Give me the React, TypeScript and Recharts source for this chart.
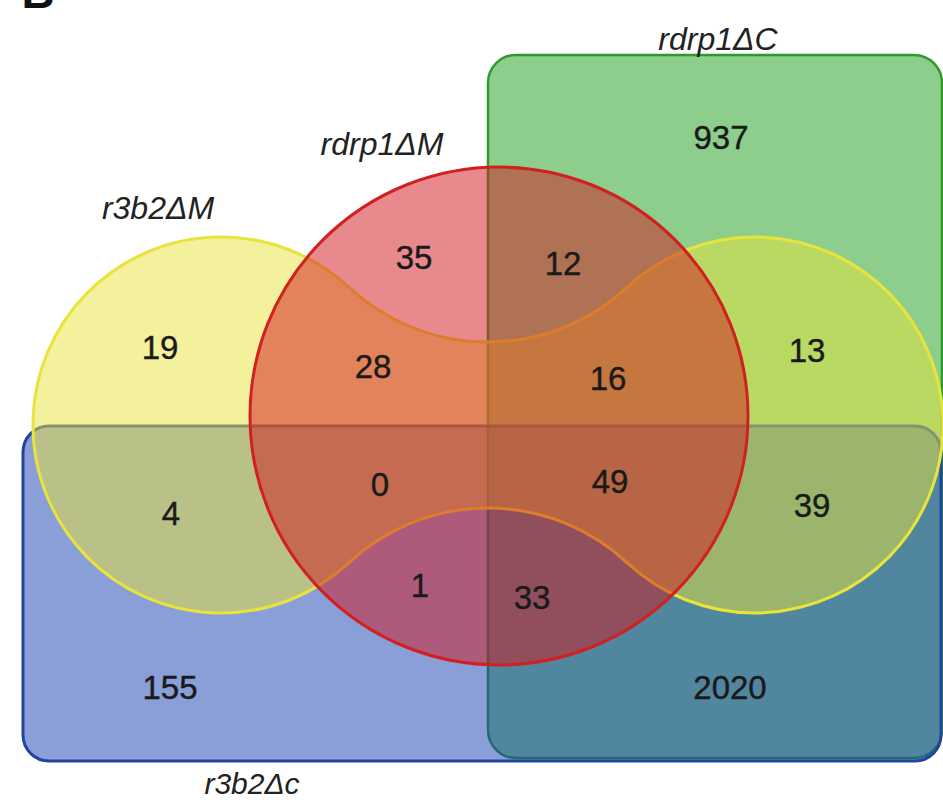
import React from 'react';
import { ScatterChart, Scatter, XAxis, YAxis, ReferenceArea } from 'recharts';

// ---------- data ----------
const panelLabel = 'B';
const setNames = ['r3b2ΔM', 'rdrp1ΔM', 'rdrp1ΔC', 'r3b2Δc'];
// region counts
const regionCounts = [937, 35, 12, 19, 28, 16, 13, 0, 49, 4, 39, 1, 33, 155, 2020];

// ---------- layout (canvas units, mapped through the axes) ----------
const W = 943;
const H = 802;
const countPos: number[][] = [
  [721, 137], [414, 257], [563, 263], [160, 347], [373, 366], [608, 378], [807, 350],
  [380, 484], [610, 481], [171, 513], [812, 505], [420, 585], [532, 597], [170, 687], [730, 687],
];
const namePos: number[][] = [[158, 207], [382, 143], [718, 38], [252, 783]];
const panelPos = [38, 0];

// set shapes: bounding boxes in canvas units
const greenBox = { x1: 488, x2: 942, y1: 55, y2: 758 };
const blueBox = { x1: 23, x2: 941, y1: 426, y2: 761 };
const yellowBox = { x1: 33, x2: 943, y1: 237, y2: 613 };
const redBox = { x1: 250, x2: 748, y1: 167, y2: 665 };
const yellowWaist = 83 / 188; // waist half-height relative to lobe radius

const FONT = '"Liberation Sans", Arial, Helvetica, sans-serif';

const roundRect = (fill: string, stroke: string, sw: number, rx: number) => (p: any) => (
  <rect x={p.x} y={p.y} width={p.width} height={p.height} rx={rx} ry={rx}
    fill={fill} fillOpacity={0.5} stroke={stroke} strokeWidth={sw} />
);

const ellipseShape = (fill: string, stroke: string, sw: number) => (p: any) => (
  <ellipse cx={p.x + p.width / 2} cy={p.y + p.height / 2} rx={p.width / 2} ry={p.height / 2}
    fill={fill} fillOpacity={0.5} stroke={stroke} strokeWidth={sw} />
);

const peanutShape = (fill: string, stroke: string, sw: number) => (p: any) => {
  const r = p.height / 2;
  const cy = p.y + r;
  const c1 = p.x + r;
  const c2 = p.x + p.width - r;
  const mx = (c1 + c2) / 2;
  const d = mx - c1;
  const h = yellowWaist * r;
  const R2 = (d * d + h * h - r * r) / (2 * (r - h));
  const tx = (r * d) / (r + R2);
  const ty = (r * (h + R2)) / (r + R2);
  const T1 = [c1 + tx, cy - ty];
  const B1 = [c1 + tx, cy + ty];
  const B2 = [c2 - tx, cy + ty];
  const T2 = [c2 - tx, cy - ty];
  const path = [
    `M ${T1[0]} ${T1[1]}`,
    `A ${r} ${r} 0 1 0 ${B1[0]} ${B1[1]}`,
    `A ${R2} ${R2} 0 0 1 ${B2[0]} ${B2[1]}`,
    `A ${r} ${r} 0 1 0 ${T2[0]} ${T2[1]}`,
    `A ${R2} ${R2} 0 0 1 ${T1[0]} ${T1[1]}`,
    'Z',
  ].join(' ');
  return <path d={path} fill={fill} fillOpacity={0.5} stroke={stroke} strokeWidth={sw} />;
};

const countData = regionCounts.map((v, i) => ({ x: countPos[i][0], y: countPos[i][1], label: String(v) }));
const nameData = setNames.map((n, i) => ({ x: namePos[i][0], y: namePos[i][1], label: n, size: i === 3 ? 30 : 32 }));
const panelData = [{ x: panelPos[0], y: panelPos[1], label: panelLabel }];

const CountText = (p: any) => (
  <text x={p.cx} y={p.cy} dy="0.36em" textAnchor="middle" fontFamily={FONT} fontSize={33}
    fill="#1a1a1a" stroke="#1a1a1a" strokeWidth={0.4}>
    {p.payload.label}
  </text>
);
const NameText = (p: any) => (
  <text x={p.cx} y={p.cy} dy="0.36em" textAnchor="middle" fontFamily={FONT} fontSize={p.payload.size} fontStyle="italic" fill="#222">
    {p.payload.label}
  </text>
);
const PanelText = (p: any) => (
  <text x={p.cx} y={p.cy + 8} textAnchor="middle" fontFamily={FONT} fontSize={46} fontWeight="bold" fill="#111">
    {p.payload.label}
  </text>
);

export default function App() {
  return (
    <div style={{ position: 'absolute', left: 0, top: 0, width: W, height: H, background: '#fff' }}>
      <ScatterChart width={W} height={H} margin={{ top: 0, right: 0, bottom: 0, left: 0 }}>
        <XAxis type="number" dataKey="x" domain={[0, W]} hide allowDataOverflow />
        <YAxis type="number" dataKey="y" domain={[0, H]} reversed hide allowDataOverflow />
        <ReferenceArea {...greenBox} ifOverflow="visible" shape={roundRect('#1b9d19', '#2e9a2e', 2.5, 28)} />
        <ReferenceArea {...blueBox} ifOverflow="visible" shape={roundRect('#153db1', '#2443a0', 3, 26)} />
        <ReferenceArea {...yellowBox} ifOverflow="visible" shape={peanutShape('#e7e339', '#e8e43c', 3)} />
        <ReferenceArea {...redBox} ifOverflow="visible" shape={ellipseShape('#d1151b', '#d02020', 3)} />
        <Scatter data={countData} shape={CountText} isAnimationActive={false} />
        <Scatter data={nameData} shape={NameText} isAnimationActive={false} />
        <Scatter data={panelData} shape={PanelText} isAnimationActive={false} />
      </ScatterChart>
    </div>
  );
}
